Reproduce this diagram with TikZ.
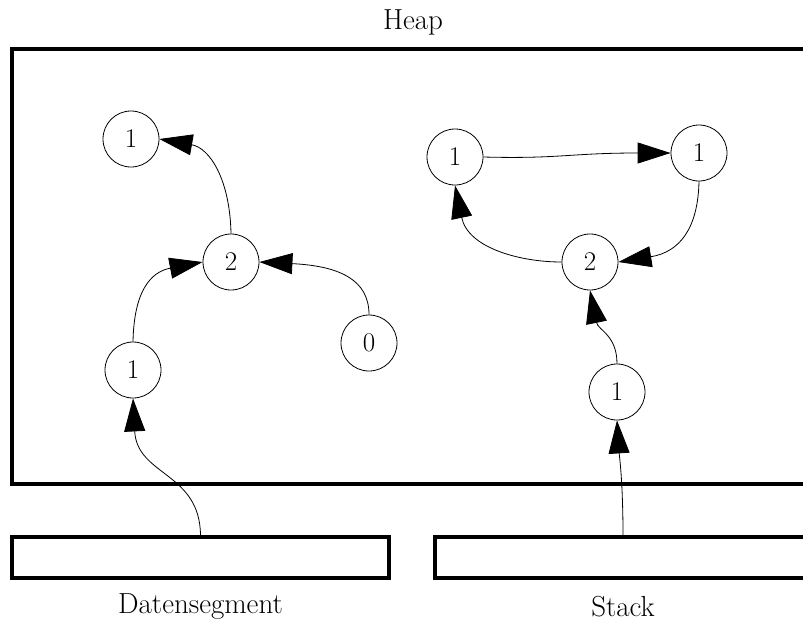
\documentclass[tikz,border=0pt]{standalone}
\usetikzlibrary{arrows.meta}
\begin{document}
\begin{tikzpicture}[x=1pt,y=-1pt,
  cnode/.style={draw,circle,minimum size=56pt,inner sep=0pt,line width=0.8pt,font=\fontsize{27}{32}\selectfont},
  membox/.style={draw,line width=3.4pt,inner sep=0pt},
  lbl/.style={font=\fontsize{29}{34}\selectfont},
  edge/.style={line width=0.8pt,-{Triangle[length=33pt,width=21pt]}}]
\clip (0,0) rectangle (803,622);
\fill[white] (0,0) rectangle (803,622);
% memory regions
\node[membox,minimum width=802pt,minimum height=435pt] (heap) at (413,266.5) {};
\node[membox,minimum width=377pt,minimum height=41pt] (ds) at (200.5,557.5) {};
\node[membox,minimum width=376pt,minimum height=41pt] (st) at (623,557.5) {};
\node[lbl] (heaplbl) at (413,22) {Heap};
\node[lbl] (dslbl) at (200.5,607) {Datensegment};
\node[lbl] (stlbl) at (623,607) {Stack};
% objects
\node[cnode] (la) at (131,139) {1};
\node[cnode] (lb) at (231,262) {2};
\node[cnode] (lc) at (369,343) {0};
\node[cnode] (ld) at (133,370) {1};
\node[cnode] (ra) at (455,157) {1};
\node[cnode] (rb) at (699,153) {1};
\node[cnode] (rc) at (590,262) {2};
\node[cnode] (rd) at (617,392) {1};
% references
\draw[edge] (lb.north) .. controls (230,180) and (210,148) .. (la.east);
\draw[edge] (ld.north) .. controls (134,292) and (150,272) .. (lb.west);
\draw[edge] (lc.north) .. controls (369,280) and (340,266) .. (lb.east);
\draw[edge] (ds.north) .. controls (200,472) and (137,476) .. (ld.south);
\draw[edge] (ra.east) .. controls (560,159) and (570,153) .. (rb.west);
\draw[edge] (rb.south) .. controls (698,228) and (680,252) .. (rc.east);
\draw[edge] (rc.west) .. controls (520,262) and (468,248) .. (ra.south);
\draw[edge] (rd.north) .. controls (617,335) and (598,330) .. (rc.south);
\draw[edge] (st.north) .. controls (623,480) and (619,452) .. (rd.south);
\end{tikzpicture}
\end{document}
